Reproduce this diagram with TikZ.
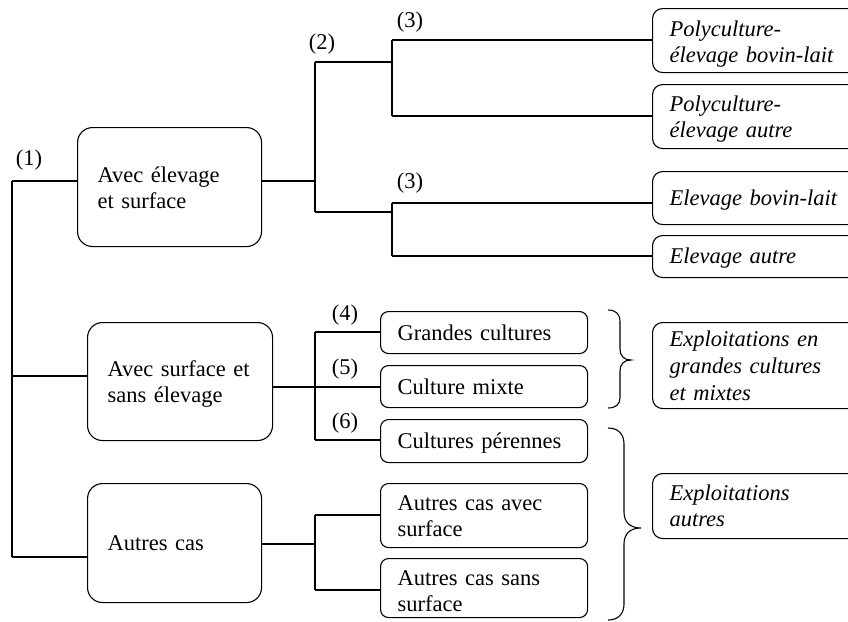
\documentclass[tikz,border=0pt]{standalone}
\usepackage{fontspec}
\setmainfont{Liberation Serif}
\begin{document}
\begin{tikzpicture}[x=1pt,y=-1pt,line width=1.1pt,
  bigbox/.style={draw,rounded corners=15pt,anchor=north west,inner sep=0pt},
  midbox/.style={draw,rounded corners=8pt,anchor=north west,inner sep=0pt,minimum width=207pt},
  rightbox/.style={draw,rounded corners=10pt,anchor=north west,inner sep=0pt,minimum width=240pt},
  tx/.style={anchor=base west,inner sep=0pt,text width=200pt,align=left,font=\fontsize{22.5}{26}\selectfont},
  itx/.style={tx,font=\fontsize{22.5}{26}\selectfont\itshape},
  lbl/.style={inner sep=0pt,font=\fontsize{22.5}{26}\selectfont}]
\useasboundingbox (0,0) rectangle (848,621);
\clip (0,0) rectangle (848,621);
% main boxes
\node[bigbox,minimum width=184pt,minimum height=119pt] (A) at (77,127) {};
\node[bigbox,minimum width=185pt,minimum height=118pt] (B) at (87,322) {};
\node[bigbox,minimum width=174pt,minimum height=119pt] (C) at (87,483) {};
\node[tx] (At) at (97,182) {Avec élevage\\et surface};
\node[tx] (Bt) at (107,376) {Avec surface et\\sans élevage};
\node[tx] (Ct) at (107,550) {Autres cas};
% middle boxes
\node[midbox,minimum height=42pt] (G) at (380,311) {};
\node[midbox,minimum height=42pt] (M) at (380,365) {};
\node[midbox,minimum height=43pt] (Pe) at (380,419) {};
\node[midbox,minimum height=64pt] (AA) at (380,483) {};
\node[midbox,minimum height=59pt] (AS) at (380,558) {};
\node[tx] (Gt) at (397,340.5) {Grandes cultures};
\node[tx] (Mt) at (397,394) {Culture mixte};
\node[tx] (Pet) at (397,448) {Cultures pérennes};
\node[tx] (AAt) at (397,510) {Autres cas avec\\surface};
\node[tx] (ASt) at (397,585) {Autres cas sans\\surface};
% right boxes
\node[rightbox,minimum height=64pt] (P1) at (652,8) {};
\node[rightbox,minimum height=64pt] (P2) at (652,84) {};
\node[rightbox,minimum height=53pt] (E1) at (652,171) {};
\node[rightbox,minimum height=42pt] (E2) at (652,235) {};
\node[rightbox,minimum height=86pt] (X1) at (652,322) {};
\node[rightbox,minimum height=65pt] (X2) at (652,473) {};
\node[itx] (P1t) at (669,36) {Polyculture-\\élevage bovin-lait};
\node[itx] (P2t) at (669,111) {Polyculture-\\élevage autre};
\node[itx] (E1t) at (669,205) {Elevage bovin-lait};
\node[itx] (E2t) at (669,263) {Elevage autre};
\node[itx,font=\fontsize{22.5}{27}\selectfont\itshape] (X1t) at (669,346) {Exploitations en\\grandes cultures\\et mixtes};
\node[itx] (X2t) at (669,500) {Exploitations\\autres};
% labels
\node[lbl] (l1) at (29,160) {(1)};
\node[lbl] (l2) at (322,44) {(2)};
\node[lbl] (l3a) at (410,22) {(3)};
\node[lbl] (l3b) at (410,183) {(3)};
\node[lbl] (l4) at (345,315) {(4)};
\node[lbl] (l5) at (345,369) {(5)};
\node[lbl] (l6) at (345,423) {(6)};
% trunk
\coordinate (t1) at (12,181);
\coordinate (t2) at (12,376);
\coordinate (t3) at (12,557);
\draw (t1) -- (t3);
\draw (t1) -- (A.west |- t1);
\draw (t2) -- (B.west |- t2);
\draw (t3) -- (C.west |- t3);
% branch A
\coordinate (a2) at (315,181);
\coordinate (a2t) at (315,62);
\coordinate (a2b) at (315,212);
\coordinate (a3t) at (392,62);
\coordinate (a3b) at (392,212);
\coordinate (p1) at (392,40);
\coordinate (p2) at (392,116);
\coordinate (e1) at (392,203);
\coordinate (e2) at (392,256);
\draw (A.east |- a2) -- (a2);
\draw (a2t) -- (a2b);
\draw (a2t) -- (a3t);
\draw (a2b) -- (a3b);
\draw (p1) -- (p2);
\draw (e1) -- (e2);
\draw (p1) -- (P1.west |- p1);
\draw (p2) -- (P2.west |- p2);
\draw (e1) -- (E1.west |- e1);
\draw (e2) -- (E2.west |- e2);
% branch B
\coordinate (b2) at (315,387);
\coordinate (g) at (315,332);
\coordinate (pe) at (315,440);
\draw (B.east |- b2) -- (M.west |- b2);
\draw (g) -- (pe);
\draw (g) -- (G.west |- g);
\draw (pe) -- (Pe.west |- pe);
% branch C
\coordinate (c2) at (315,544);
\coordinate (aa) at (315,515);
\coordinate (as) at (315,590);
\draw (C.east |- c2) -- (c2);
\draw (aa) -- (as);
\draw (aa) -- (AA.west |- aa);
\draw (as) -- (AS.west |- as);
% braces
\draw (608,310) .. controls (616,310) and (620,314) .. (620,322) -- (620,349)
  .. controls (620,356) and (624,360) .. (631,360)
  .. controls (624,360) and (620,364) .. (620,371) -- (620,398)
  .. controls (620,404) and (616,408) .. (608,408);
\draw (608,428) .. controls (618,428) and (624,434) .. (624,444) -- (624,512)
  .. controls (624,522) and (630,528) .. (641,528)
  .. controls (630,528) and (624,534) .. (624,544) -- (624,604)
  .. controls (624,614) and (618,620) .. (608,620);
\end{tikzpicture}
\end{document}
